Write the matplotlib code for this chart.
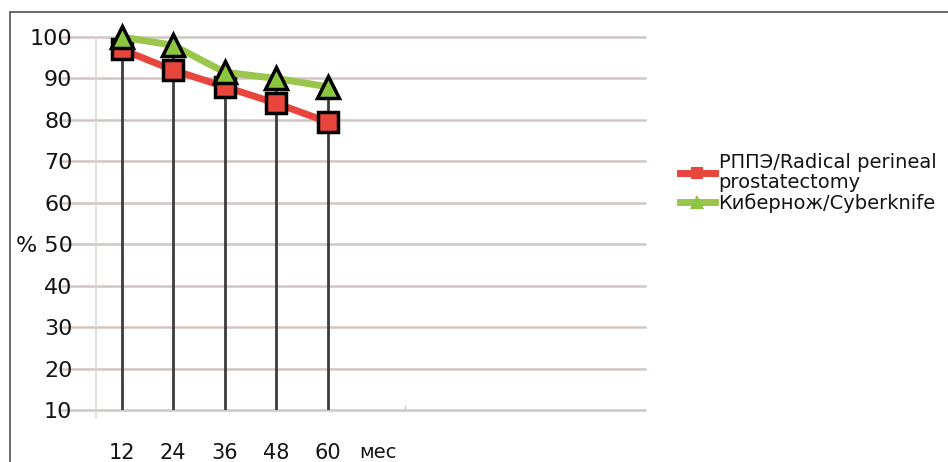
import numpy as np
import matplotlib.pyplot as plt
from matplotlib.patches import Rectangle

# Survival data
months = [12, 24, 36, 48, 60]
rppe = [97, 92, 88, 84, 79.5]
cyberknife = [100, 98, 91.5, 90, 88]
y_ticks = [10, 20, 30, 40, 50, 60, 70, 80, 90, 100]
y_labels = ["10", "20", "30", "40", "% 50", "60", "70", "80", "90", "100"]

W, H = 948, 462
fig = plt.figure(figsize=(W / 100, H / 100), dpi=100)
plt.rcParams['font.family'] = ['DejaVu Sans']
txt_c = '#141414'

# outer frame
fig.patches.append(Rectangle((10 / W, -0.1), 2, (H - 12) / H + 0.1,
                             transform=fig.transFigure, fill=False,
                             edgecolor='#505050', linewidth=1.2))

left, right, top, bottom = 96, 645, 37, 410
ax = fig.add_axes([left / W, 1 - bottom / H, (right - left) / W, (bottom - top) / H])
ax.set_xlim(6, 134)
ax.set_ylim(10, 100)
for s in ax.spines.values():
    s.set_visible(False)

grid_c = '#d0c6c3'
for y in y_ticks:
    ax.plot([-2, 134], [y, y], color=grid_c, lw=1.8, clip_on=False, zorder=1)
ax.plot([6, 6], [8, 100], color='#ddd8d6', lw=1.2, clip_on=False, zorder=1)
ax.plot([78, 78], [10, 11], color=grid_c, lw=1, zorder=1)

# drop lines
for x, a, b in zip(months, rppe, cyberknife):
    ax.plot([x, x], [10, max(a, b)], color='#3c3c3c', lw=2, zorder=2)

ax.plot(months, rppe, color='#e8453c', lw=5, marker='s', ms=15,
        mfc='#e8453c', mec='black', mew=2.5, zorder=3, clip_on=False,
        label='РППЭ/Radical perineal\nprostatectomy')
ax.plot(months, cyberknife, color='#9bc64d', lw=5, marker='^', ms=16,
        mfc='#8cc63f', mec='black', mew=2.5, zorder=4, clip_on=False,
        label='Кибернож/Cyberknife')

ax.set_yticks(y_ticks)
ax.set_yticklabels(y_labels)
ax.set_xticks(months)
ax.set_xticklabels([str(m) for m in months])
ax.tick_params(axis='y', length=0, pad=17, labelsize=16, labelcolor=txt_c)
ax.tick_params(axis='x', length=0, pad=24, labelsize=15, labelcolor=txt_c)
fig.text(378 / W, 1 - 453 / H, 'мес', fontsize=14, color=txt_c,
         ha='center', va='center')

leg = fig.legend(loc='upper left', bbox_to_anchor=(670 / W, 1 - 143 / H),
                 frameon=False, fontsize=14, handlelength=1.8, handletextpad=0.2,
                 labelspacing=0.05, borderpad=0, markerscale=0.6)
for h in leg.legend_handles:
    h.set_markeredgewidth(0)
for t in leg.get_texts():
    t.set_linespacing(1.1)
    t.set_color(txt_c)

fig.savefig('out.png', dpi=100)
